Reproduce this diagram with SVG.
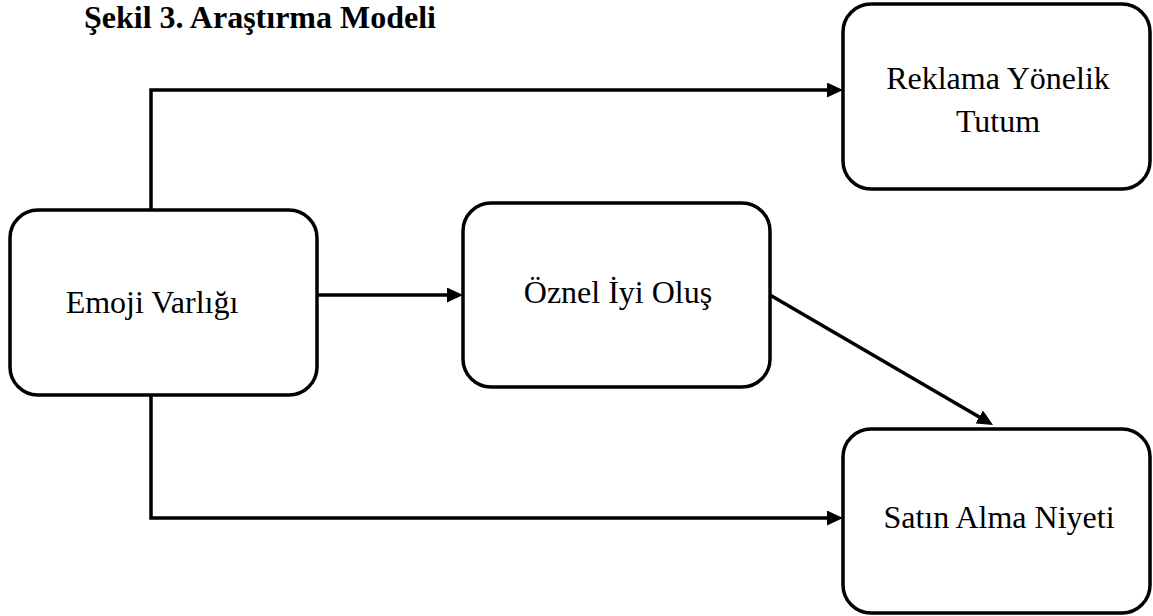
<svg xmlns="http://www.w3.org/2000/svg" width="1153" height="616" viewBox="0 0 1153 616">
  <style>
    .box { fill: #ffffff; stroke: #000000; stroke-width: 3.5; }
    .lbl { font-family: "Liberation Serif", "Times New Roman", serif; font-size: 32px; fill: #000000; text-anchor: middle; }
    .title { font-family: "Liberation Serif", "Times New Roman", serif; font-size: 32px; font-weight: bold; fill: #000000; }
    .conn { fill: none; stroke: #000000; stroke-width: 3.5; }
  </style>
  <defs>
    <marker id="arrow" markerUnits="userSpaceOnUse" markerWidth="17" markerHeight="15" refX="11" refY="7.5" orient="auto">
      <path d="M0,0 L16,7.5 L0,15 z" fill="#000000"/>
    </marker>
  </defs>
  <rect width="1153" height="616" fill="#ffffff"/>
  <text class="title" x="84" y="28">Şekil 3. Araştırma Modeli</text>

  <g id="connectors">
    <path class="conn" d="M151,210 V90 H838" marker-end="url(#arrow)"/>
    <path class="conn" d="M317,295 H458" marker-end="url(#arrow)"/>
    <path class="conn" d="M770,295 L988.7,422.5" marker-end="url(#arrow)"/>
    <path class="conn" d="M151,395 V518 H838" marker-end="url(#arrow)"/>
  </g>

  <g id="node-emoji">
    <rect class="box" x="10" y="210" width="307" height="185" rx="28" ry="28"/>
    <text class="lbl" x="152" y="313">Emoji Varlığı</text>
  </g>
  <g id="node-oznel">
    <rect class="box" x="463" y="203" width="307" height="184" rx="28" ry="28"/>
    <text class="lbl" x="618" y="303">Öznel İyi Oluş</text>
  </g>
  <g id="node-reklama">
    <rect class="box" x="843" y="4" width="307" height="185" rx="28" ry="28"/>
    <text class="lbl" x="998" y="89">Reklama Yönelik</text>
    <text class="lbl" x="998" y="132">Tutum</text>
  </g>
  <g id="node-satin">
    <rect class="box" x="843" y="429" width="307" height="184" rx="28" ry="28"/>
    <text class="lbl" x="999" y="528">Satın Alma Niyeti</text>
  </g>
</svg>
